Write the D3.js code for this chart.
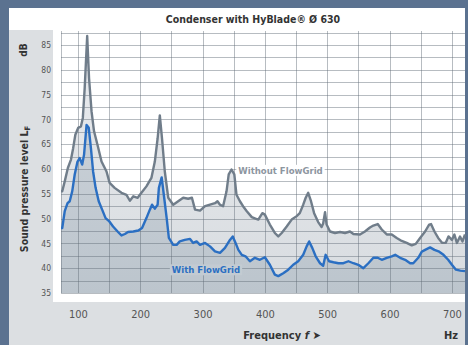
<!DOCTYPE html>
<html>
<head>
<meta charset="utf-8">
<script src="https://cdn.jsdelivr.net/npm/d3@7"></script>
<style>
  html, body { margin: 0; padding: 0; background: #5b7290; }
  svg { display: block; }
  text { font-family: "DejaVu Sans Condensed", "Liberation Sans Narrow", "Arial Narrow", sans-serif; }
</style>
</head>
<body>
<svg id="chart" width="468" height="345"></svg>
<script>
// frequency (Hz) / sound pressure level (dB)
const freqWithout = [73, 75, 79, 84, 89, 92.5, 96, 100.5, 105, 108, 111, 115, 118, 122, 126, 131.5, 138, 146, 151, 159, 170, 178, 183.5, 189, 196, 202, 210, 218, 223.5, 228, 231.5, 235, 239.5, 245, 253, 261, 269, 277, 283, 288, 296, 304, 312, 320, 324, 328, 333, 338.5, 342, 346.5, 351, 354.5, 360, 365, 371, 379, 385, 389.5, 396, 400, 408, 416, 421.5, 427, 435, 443, 451, 456, 461.5, 465.5, 469.5, 474, 479, 485.5, 491, 493.5, 496.5, 499, 504.5, 512.5, 520.5, 528.5, 536.5, 542, 552.5, 560.5, 568.5, 574, 581, 587.5, 595.5, 603.5, 611.5, 619.5, 627.5, 635.5, 642, 649, 657, 663.5, 666.5, 672, 678, 684.5, 690, 694.5, 700, 704, 708, 713, 717, 721]
const levelWithout = [55.5, 55.5, 57.5, 60.2, 61.9, 64.2, 66.9, 68.3, 68.6, 70.3, 76.3, 86.8, 78.3, 71.6, 67.6, 64.9, 61.5, 59.5, 57.2, 56.2, 55.2, 54.8, 53.6, 54.5, 54.2, 55.2, 56.5, 58.2, 61.5, 66.2, 70.8, 66.2, 59.5, 54.2, 52.8, 53.5, 54.2, 54.0, 54.2, 51.8, 51.6, 52.5, 52.8, 53.1, 53.5, 52.8, 52.5, 55.5, 58.9, 59.9, 58.9, 54.8, 53.5, 52.5, 51.5, 50.3, 50.0, 49.8, 51.1, 50.8, 48.8, 47.1, 46.4, 47.1, 48.4, 49.8, 50.5, 51.1, 52.8, 54.2, 55.2, 53.5, 51.1, 49.3, 48.3, 49, 51.3, 48.8, 47.4, 47.1, 47.3, 47.1, 47.4, 46.9, 46.8, 47.4, 48.2, 48.6, 48.9, 47.8, 46.8, 46.8, 46.1, 45.5, 45.1, 44.6, 44.9, 46.1, 47.4, 48.8, 48.9, 47.4, 46.1, 45.1, 45.1, 46.4, 45.7, 46.8, 45.1, 46.4, 45.4, 46.8]

const freqWith = [73, 75, 79, 83.5, 87, 91, 95, 99.5, 103, 107, 110, 114, 117.5, 121, 124.5, 128.5, 133.5, 139, 144.5, 150, 156.5, 164.5, 170, 175.5, 180.5, 189, 197, 203, 210, 215.5, 219, 223.5, 228, 230, 234.5, 238.5, 242.5, 246, 253, 258.5, 263.5, 271.5, 280, 285, 290.5, 296, 304, 312, 320, 328, 336, 344, 348.5, 353, 357.5, 363, 369, 376, 384, 392, 400, 408, 416, 421.5, 429.5, 437.5, 445.5, 453.5, 461.5, 467, 471, 476, 481.5, 488.5, 493.5, 497.5, 503, 510, 518, 526, 534, 542, 551, 558, 566, 574, 581, 587.5, 595.5, 603.5, 609, 617, 625, 633, 638, 646, 651.5, 657, 665, 672, 678.5, 686.5, 694, 700, 706.5, 713.5, 721]
const levelWith = [48.1, 48.1, 51.5, 53.1, 53.5, 55.5, 58.9, 61.5, 62.2, 60.9, 62.9, 68.9, 68.3, 64.2, 59.5, 56.2, 53.5, 51.8, 50.1, 49.5, 48.4, 47.3, 46.6, 46.9, 47.3, 47.4, 47.6, 48.1, 50.1, 51.8, 52.8, 52.0, 52.8, 56.2, 58.3, 54.2, 50.1, 46.1, 44.7, 44.7, 45.4, 45.7, 45.9, 45.1, 45.4, 44.7, 45.1, 44.4, 43.4, 43.1, 44.1, 45.7, 46.4, 45.1, 43.7, 42.7, 42.4, 41.4, 42.1, 41.7, 42.2, 40.7, 38.7, 38.4, 39.0, 39.7, 40.7, 41.4, 42.7, 44.4, 45.4, 44.1, 42.4, 41.0, 40.5, 42.7, 41.4, 41.2, 41.0, 41.0, 41.4, 41.0, 40.6, 40.0, 41.0, 42.1, 42.1, 41.7, 42.1, 42.4, 42.7, 42.1, 41.7, 41.0, 41.0, 42.1, 43.3, 43.7, 44.2, 43.7, 43.4, 42.7, 41.7, 40.7, 39.7, 39.5, 39.4]

const xTicks = [100, 200, 300, 400, 500, 600, 700]
const yTicks = [35, 40, 45, 50, 55, 60, 65, 70, 75, 80, 85]
const xGrid = d3.range(100, 701, 50)
const yGrid = d3.range(35, 88, 2.5)

const seriesWithout = freqWithout.map((f, i) => ({ f: f, db: levelWithout[i] }))
const seriesWith = freqWith.map((f, i) => ({ f: f, db: levelWith[i] }))

const svg = d3.select('#chart')

const x = d3.scaleLinear().domain([73, 721]).range([61, 465])
const y = d3.scaleLinear().domain([35, 85]).range([293, 45])
const plotTop = 31

// panel backgrounds
svg.append('rect').attr('x', 9).attr('y', 8).attr('width', 456).attr('height', 337).attr('fill', '#dcdfe2')
svg.append('rect').attr('x', 9).attr('y', 8).attr('width', 456).attr('height', 22).attr('fill', '#fff')
svg.append('rect').attr('x', 53).attr('y', 30).attr('width', 412).attr('height', 272).attr('fill', '#fff')

// gradients for the two areas
const defs = svg.append('defs')
const g1 = defs.append('linearGradient').attr('id', 'fillWithout').attr('x1', 0).attr('y1', 0).attr('x2', 0).attr('y2', 1)
g1.append('stop').attr('offset', '0%').attr('stop-color', '#eaecef')
g1.append('stop').attr('offset', '100%').attr('stop-color', '#d8dce0')
const g2 = defs.append('linearGradient').attr('id', 'fillWith').attr('x1', 0).attr('y1', 0).attr('x2', 0).attr('y2', 1)
g2.append('stop').attr('offset', '0%').attr('stop-color', '#c9d0d7')
g2.append('stop').attr('offset', '100%').attr('stop-color', '#bcc5cd')

const area = d3.area().x(d => x(d.f)).y0(y(35)).y1(d => y(d.db))
const line = d3.line().x(d => x(d.f)).y(d => y(d.db))

svg.append('path').datum(seriesWithout).attr('d', area).attr('fill', 'url(#fillWithout)')
svg.append('path').datum(seriesWith).attr('d', area).attr('fill', 'url(#fillWith)')

// grid
const grid = svg.append('g').attr('stroke', '#5f6a75').attr('stroke-opacity', 0.45).attr('stroke-width', 1)
grid.selectAll('line.h').data(yGrid).join('line')
  .attr('x1', 61).attr('x2', 465)
  .attr('y1', d => Math.round(y(d)) + 0.5).attr('y2', d => Math.round(y(d)) + 0.5)
grid.selectAll('line.v').data([73].concat(xGrid)).join('line')
  .attr('x1', d => Math.round(x(d)) + 0.5).attr('x2', d => Math.round(x(d)) + 0.5)
  .attr('y1', plotTop).attr('y2', y(35))

// curves
svg.append('path').datum(seriesWithout).attr('d', line)
  .attr('fill', 'none').attr('stroke', '#707d8a').attr('stroke-width', 2.4).attr('stroke-linejoin', 'round')
svg.append('path').datum(seriesWith).attr('d', line)
  .attr('fill', 'none').attr('stroke', '#2b6fc2').attr('stroke-width', 2.4).attr('stroke-linejoin', 'round')

// in-chart labels with knockout boxes
function label(txt, cx, cy, color, bg) {
  const g = svg.append('g')
  const t = g.append('text').attr('x', cx).attr('y', cy).attr('dy', '0.35em')
    .attr('text-anchor', 'middle').attr('font-size', 9.5).attr('font-weight', 'bold')
    .attr('fill', color).text(txt)
  const bb = t.node().getBBox()
  g.insert('rect', 'text').attr('x', bb.x - 2).attr('y', bb.y).attr('width', bb.width + 4).attr('height', bb.height).attr('fill', bg)
}
label('Without FlowGrid', 280.5, 170.5, '#8d969f', '#fff')
label('With FlowGrid', 206, 270, '#2b6fc2', '#c3cbd2')

// axes
const yAxis = svg.append('g').attr('transform', 'translate(53,0)')
  .call(d3.axisLeft(y).tickValues(yTicks).tickSize(0).tickPadding(2))
yAxis.select('.domain').remove()
yAxis.selectAll('text').attr('font-size', 8.5).attr('fill', '#555')
  .style('font-family', '"DejaVu Sans Condensed", "Liberation Sans Narrow", sans-serif')

const xAxis = svg.append('g').attr('transform', 'translate(0,302)')
  .call(d3.axisBottom(x).tickValues(xTicks).tickSize(0).tickPadding(8))
xAxis.select('.domain').remove()
xAxis.selectAll('text').attr('font-size', 11).attr('fill', '#555')
  .style('font-family', '"DejaVu Sans Condensed", "Liberation Sans Narrow", sans-serif')

// titles
svg.append('text').attr('x', 253).attr('y', 23).attr('text-anchor', 'middle')
  .attr('font-size', 10.5).attr('font-weight', 'bold').attr('fill', '#333')
  .text('Condenser with HyBlade® Ø 630')

svg.append('text').attr('transform', 'translate(27,50) rotate(-90)').attr('text-anchor', 'middle')
  .attr('font-size', 10).attr('font-weight', 'bold').attr('fill', '#333').text('dB')

const yt = svg.append('text').attr('transform', 'translate(28,189) rotate(-90)').attr('text-anchor', 'middle')
  .attr('font-size', 10.5).attr('font-weight', 'bold').attr('fill', '#333')
yt.append('tspan').text('Sound pressure level L')
yt.append('tspan').attr('font-size', 7.5).attr('dy', 2).text('F')

const xt = svg.append('text').attr('x', 282).attr('y', 339).attr('text-anchor', 'middle')
  .attr('font-size', 11).attr('font-weight', 'bold').attr('fill', '#333')
xt.append('tspan').text('Frequency ')
xt.append('tspan').attr('font-style', 'italic').text('f')
xt.append('tspan').text(' ➤')

svg.append('text').attr('x', 451).attr('y', 339).attr('text-anchor', 'middle')
  .attr('font-size', 11).attr('font-weight', 'bold').attr('fill', '#333').text('Hz')
</script>
</body>
</html>
